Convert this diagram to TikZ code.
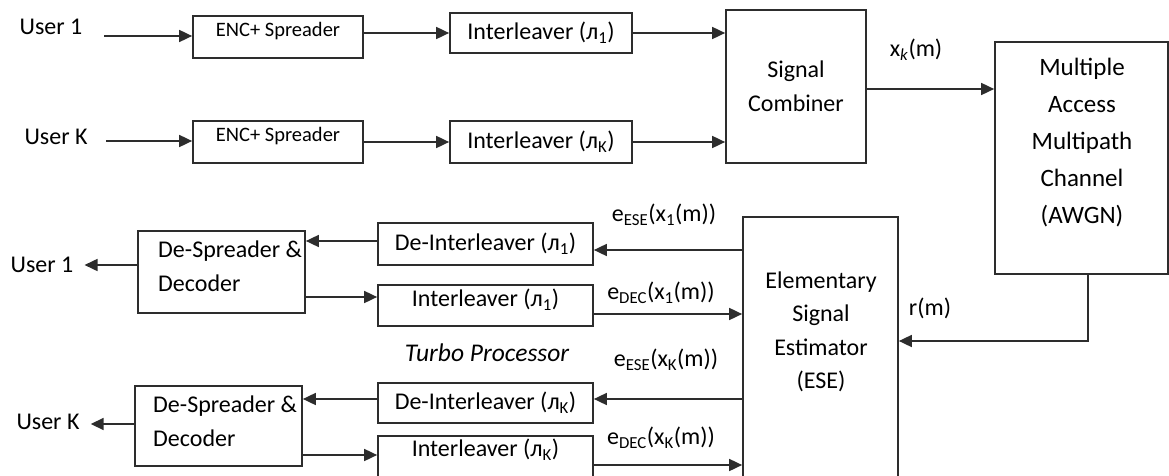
\documentclass[tikz,border=0pt]{standalone}
\usepackage{fontspec}
\setmainfont{Carlito}
\usetikzlibrary{arrows.meta,calc}
\definecolor{linec}{RGB}{45,45,45}
\newcommand\fntmain{\fontsize{24}{33.5}\selectfont}
\newcommand\fntenc{\fontsize{20.5}{24}\selectfont}
\newcommand\fntmac{\fontsize{25}{37}\selectfont}
\tikzset{
  box/.style={draw=linec, line width=1.7pt, inner sep=0pt, font=\fntmain},
  txt/.style={inner sep=0pt, font=\fntmain},
  conn/.style={draw=linec, line width=1.7pt, -{Triangle[length=13pt,width=12pt]}},
}
\begin{document}
\begin{tikzpicture}[x=1pt,y=-1pt]
\useasboundingbox (0,0) rectangle (1169,476);
\clip (0,0) rectangle (1169,476);
% transmitter
\node[txt] (u1a) at (51,27) {User 1};
\node[txt] (uKa) at (56,137) {User K};
\coordinate (u1s) at (104,36);
\coordinate (uKs) at (106,141);
\node[box, minimum width=170pt, minimum height=42pt, font=\fntenc, text height=15pt, text depth=15pt] (enc1) at (278,37) {ENC+ Spreader};
\node[box, minimum width=170pt, minimum height=42pt, font=\fntenc, text height=15pt, text depth=15pt] (encK) at (278,142) {ENC+ Spreader};
\node[box, minimum width=182pt, minimum height=40pt] (il1) at (541,33) {Interleaver (л\textsubscript{1})};
\node[box, minimum width=182pt, minimum height=42pt] (ilK) at (541,142) {Interleaver (л\textsubscript{K})};
\node[box, minimum width=140pt, minimum height=153pt, align=center] (sc) at (796,86.5) {Signal\\Combiner};
\node[box, minimum width=173pt, minimum height=232pt] (mac) at (1081.5,158) {};
\node[txt, font=\fntmac, align=center] (mactxt) at (1082,143) {Multiple\\Access\\Multipath\\Channel\\(AWGN)};
\node[txt] (xk) at (916,50) {x\textsubscript{\textit{k}}(m)};
% receiver
\node[box, minimum width=155pt, minimum height=273pt] (ese) at (820.5,353.5) {};
\node[txt, align=center] (esetxt) at (821,332) {Elementary\\Signal\\Estimator\\(ESE)};
\node[txt] (rm) at (930,308) {r(m)};
\node[box, minimum width=215pt, minimum height=42pt] (deil1) at (485.5,244) {De-Interleaver (л\textsubscript{1})};
\node[box, minimum width=215pt, minimum height=41pt, text height=14pt, text depth=12pt] (il1b) at (485.5,305.5) {Interleaver (л\textsubscript{1})};
\node[box, minimum width=215pt, minimum height=40pt] (deilK) at (485.5,403) {De-Interleaver (л\textsubscript{K})};
\node[box, minimum width=215pt, minimum height=42pt, text height=12pt, text depth=13pt] (ilKb) at (485.5,457) {Interleaver (л\textsubscript{K})};
\node[box, minimum width=167pt, minimum height=82pt] (ds1) at (221.5,272) {};
\node[txt, align=left, anchor=west] (ds1txt) at (158,266) {De-Spreader \&\\Decoder};
\node[box, minimum width=167pt, minimum height=80pt] (dsK) at (218.5,426) {};
\node[txt, align=left, anchor=west] (dsKtxt) at (153,421) {De-Spreader \&\\Decoder};
\node[txt] (u1b) at (42,265) {User 1};
\node[txt] (uKb) at (48,422) {User K};
\node[txt] (le1) at (664,215) {e\textsubscript{ESE}(x\textsubscript{1}(m))};
\node[txt] (ld1) at (661,293) {e\textsubscript{DEC}(x\textsubscript{1}(m))};
\node[txt, font=\fontsize{25.5}{30}\selectfont\itshape] (tp) at (487,353) {Turbo Processor};
\node[txt] (leK) at (666,360) {e\textsubscript{ESE}(x\textsubscript{K}(m))};
\node[txt] (ldK) at (661,438) {e\textsubscript{DEC}(x\textsubscript{K}(m))};
% connectors, transmitter
\draw[conn] (u1s) -- (enc1.west |- u1s);
\draw[conn] (uKs) -- (encK.west |- uKs);
\draw[conn] (enc1.east |- il1.west) -- (il1.west);
\draw[conn] (encK.east) -- (ilK.west);
\draw[conn] (il1.east) -- (sc.west |- il1.east);
\draw[conn] (ilK.east) -- (sc.west |- ilK.east);
\draw[conn] (sc.east |- 0,89) -- (mac.west |- 0,89);
\draw[conn] ([xshift=6.5pt]mac.south) |- (ese.east |- 0,341);
% connectors, receiver
\draw[conn] (ese.west |- 0,250) -- (deil1.east |- 0,250);
\draw[conn] (il1b.east |- 0,314) -- (ese.west |- 0,314);
\draw[conn] (ese.west |- 0,399) -- (deilK.east |- 0,399);
\draw[conn] (ilKb.east |- 0,465) -- (ese.west |- 0,465);
\draw[conn] (deil1.west |- 0,241) -- (ds1.east |- 0,241);
\draw[conn] (ds1.east |- 0,297) -- (il1b.west |- 0,297);
\draw[conn] (deilK.west |- 0,399) -- (dsK.east |- 0,399);
\draw[conn] (dsK.east |- 0,455) -- (ilKb.west |- 0,455);
\draw[conn] (ds1.west |- u1b.east) -- ([xshift=11pt]u1b.east);
\draw[conn] (dsK.west |- 0,424) -- ([xshift=11pt]uKb.east |- 0,424);
\end{tikzpicture}
\end{document}
